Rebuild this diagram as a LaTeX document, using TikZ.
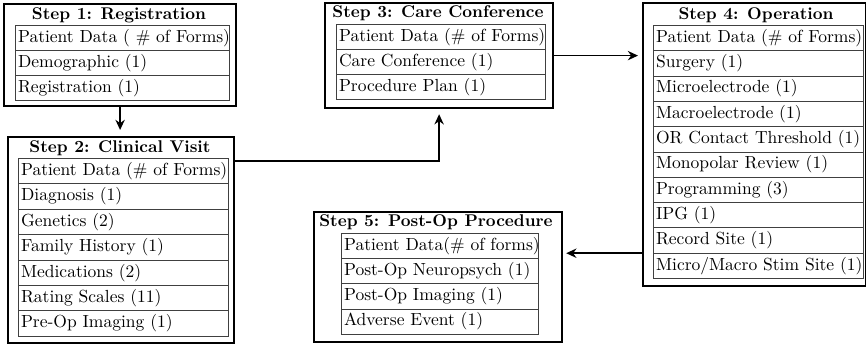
\documentclass[tikz,border=0pt]{standalone}
\usetikzlibrary{arrows.meta,calc}
\tikzset{
  stepframe/.style={draw, line width=1.3pt, anchor=north west, inner sep=0pt},
  steptitle/.style={font=\bfseries, inner sep=0pt},
  cell/.style={draw=black!75, line width=0.55pt, anchor=north west, inner sep=0pt},
  celltext/.style={anchor=west, inner sep=0pt, xshift=1.6pt, text height=7pt, text depth=2pt,
    font=\fontsize{10.3}{12}\selectfont},
  arr/.style={line width=0.9pt, -{Stealth[length=6pt,width=5.5pt]}},
}
\begin{document}
\begin{tikzpicture}[x=0.5882pt,y=-0.5882pt]
\useasboundingbox (0,0) rectangle (866,345);

% outer frames of the five steps
\node[stepframe, minimum width=232*0.5882pt, minimum height=102*0.5882pt] (s1) at (3,3) {};
\node[stepframe, minimum width=226*0.5882pt, minimum height=206*0.5882pt] (s2) at (7,136) {};
\node[stepframe, minimum width=228*0.5882pt, minimum height=105*0.5882pt] (s3) at (324,2) {};
\node[stepframe, minimum width=223*0.5882pt, minimum height=283*0.5882pt] (s4) at (642,2) {};
\node[stepframe, minimum width=248*0.5882pt, minimum height=130*0.5882pt] (s5) at (313,211) {};

% step titles
\node[steptitle] (s1t) at (119,15) {Step 1: Registration};
\node[steptitle] (s2t) at (120,148) {Step 2: Clinical Visit};
\node[steptitle] (s3t) at (438,13) {Step 3: Care Conference};
\node[steptitle] (s4t) at (756,15) {Step 4: Operation};
\node[steptitle] (s5t) at (436,222) {Step 5: Post-Op Procedure};

% form tables
\foreach \t [count=\i from 0] in {Patient Data ( \# of Forms),Demographic (1),Registration (1)} {
  \node[cell, minimum width=214*0.5882pt, minimum height=25*0.5882pt] (t1-\i) at (15,25+\i*25) {};
  \node[celltext] (t1-\i-txt) at (t1-\i.west) {\t};
}
\foreach \t [count=\i from 0] in {Patient Data (\# of Forms),Diagnosis (1),Genetics (2),Family History (1),Medications (2),Rating Scales (11),Pre-Op Imaging (1)} {
  \node[cell, minimum width=210*0.5882pt, minimum height=25.4*0.5882pt] (t2-\i) at (18,158+\i*25.4) {};
  \node[celltext] (t2-\i-txt) at (t2-\i.west) {\t};
}
\foreach \t [count=\i from 0] in {Patient Data (\# of Forms),Care Conference (1),Procedure Plan (1)} {
  \node[cell, minimum width=209*0.5882pt, minimum height=25*0.5882pt] (t3-\i) at (336,24+\i*25) {};
  \node[celltext] (t3-\i-txt) at (t3-\i.west) {\t};
}
\foreach \t [count=\i from 0] in {Patient Data (\# of Forms),Surgery (1),Microelectrode (1),Macroelectrode (1),OR Contact Threshold (1),Monopolar Review (1),Programming (3),IPG (1),Record Site (1),Micro/Macro Stim Site (1)} {
  \node[cell, minimum width=210*0.5882pt, minimum height=25.3*0.5882pt] (t4-\i) at (653,25+\i*25.3) {};
  \node[celltext] (t4-\i-txt) at (t4-\i.west) {\t};
}
\foreach \t [count=\i from 0] in {Patient Data(\# of forms),Post-Op Neuropsych (1),Post-Op Imaging (1),Adverse Event (1)} {
  \node[cell, minimum width=197*0.5882pt, minimum height=25.2*0.5882pt] (t5-\i) at (341,233+\i*25.2) {};
  \node[celltext] (t5-\i-txt) at (t5-\i.west) {\t};
}

% workflow connectors
\coordinate (s2out) at ($(s2.north east)+(0,25)$);
\coordinate (s4out) at ($(s4.south west)+(0,-34)$);
\draw[arr, shorten >=6*0.5882pt] (s1.south) -- (s1.south |- s2.north);
\draw[arr, shorten >=5*0.5882pt] (s2out) -| (s3.south);
\draw[arr, shorten >=4*0.5882pt] (s3.east) -- (s3.east -| s4.west);
\draw[arr, shorten >=3*0.5882pt] (s4out) -- (s4out -| s5.east);
\end{tikzpicture}
\end{document}
